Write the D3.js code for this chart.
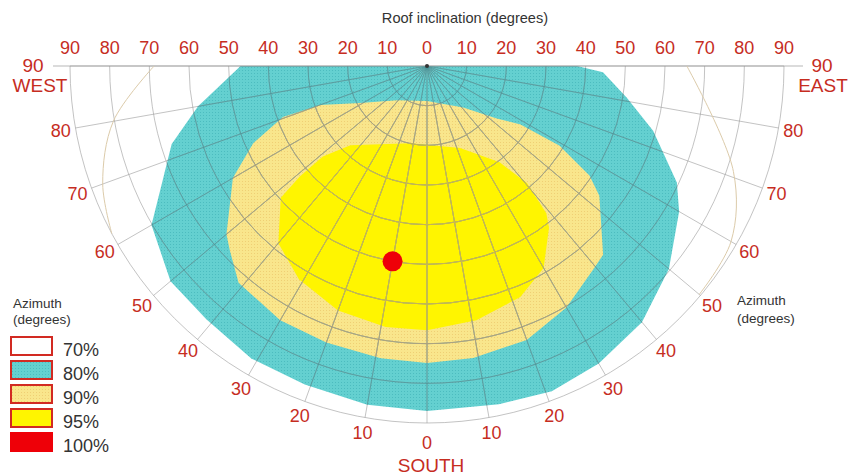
<!DOCTYPE html>
<html>
<head>
<meta charset="utf-8">
<script src="https://cdn.jsdelivr.net/npm/d3@7"></script>
<style>
    body { margin: 0; background: #fff; }
    svg { display: block; font-family: "Liberation Sans", Arial, sans-serif; }
</style>
</head>
<body>
<div id="chart"></div>
<script>

// ---- Data: [azimuth (deg, + = west), inclination (deg)] ----
const inclinationTicks = [10, 20, 30, 40, 50, 60, 70, 80, 90];
const azimuthTicks = [-90, -80, -70, -60, -50, -40, -30, -20, -10, 0, 10, 20, 30, 40, 50, 60, 70, 80, 90];
const azimuthLabels = [-80, -70, -60, -50, -40, -30, -20, -10, 0, 10, 20, 30, 40, 50, 60, 70, 80];

const contour80 = [
    [90, 47], [80, 58.6], [73, 67.3], [60, 80.2], [50, 84.4], [41, 84.7], [31, 86], [21, 86],
    [10, 86.7], [0, 87], [-12, 87.2], [-21, 87.8], [-30, 86.6], [-40, 84.3], [-50, 79.6],
    [-60, 73.4], [-65, 69.5], [-74, 59.3], [-81, 51], [-88, 44.4], [-90, 37.8]
];
const contour90 = [
    [70.5, 38.5], [70, 28.7], [61, 19.3], [41, 11.4], [0, 8.8], [-41, 13.9], [-53, 22],
    [-58, 27.8], [-59, 39], [-56, 49.4], [-53, 54.4], [-43, 65.1], [-40, 66], [-30, 70.3],
    [-20, 73.5], [-9, 74.5], [0, 74.9], [9, 74.6], [20, 74.2], [30, 74], [41, 72.4],
    [47, 68], [50, 66], [60, 56.5], [66, 48]
];
const contour95 = [
    [44, 27.8], [12, 19.9], [-22, 22.3], [-37, 30.4], [-40.5, 38.8], [-39, 47.8], [-37, 51.1],
    [-30, 58.8], [-22, 62.8], [-11, 65.3], [0, 66.6], [9, 66.6], [20, 65.6], [31, 62.7],
    [40, 58.3], [48, 49.6], [49, 42.5], [49, 34.8]
];
const peak100 = [10, 50];
const contour70West = [[90, 68.8], [80, 80.3], [70, 87], [62, 90]];
const contour70East = [[-50, 89.6], [-60, 88.5], [-71, 81.7], [-90, 65.5]];

const legendLabels = ["70%", "80%", "90%", "95%", "100%"];

// ---- Layout ----
const width = 850, height = 475;
const cx = 427, cy = 66;
const red = "#c62d1f";
const textGrey = "#333";

const rScale = d3.scaleLinear().domain([0, 90]).range([0, 357]);
const aScale = d3.scaleLinear().domain([-90, 90]).range([Math.PI / 2, 3 * Math.PI / 2]);

const svg = d3.select("#chart")
    .append("svg")
    .attr("width", width)
    .attr("height", height);

// ---- Patterns for the printed dot texture ----
const defs = svg.append("defs");

function dotPattern(id, base, dot) {
    const p = defs.append("pattern")
        .attr("id", id)
        .attr("patternUnits", "userSpaceOnUse")
        .attr("width", 3)
        .attr("height", 3);
    p.append("rect").attr("width", 3).attr("height", 3).attr("fill", base);
    p.append("rect").attr("x", 1).attr("y", 1).attr("width", 1).attr("height", 1).attr("fill", dot);
}
dotPattern("dots80", "#64d0d0", "#4cbcbf");
dotPattern("dots90", "#f9e68c", "#efcf74");

const closedPath = d3.lineRadial()
    .angle(d => aScale(d[0]))
    .radius(d => rScale(d[1]))
    .curve(d3.curveLinearClosed);
const path80 = closedPath(contour80);
const path90 = closedPath(contour90);
const path95 = closedPath(contour95);

[["clip80", path80], ["clip90", path90], ["clip95", path95]].forEach(([id, d]) => {
    defs.append("clipPath").attr("id", id).append("path").attr("d", d);
});

const chart = svg.append("g")
    .attr("transform", `translate(${cx},${cy})`);

// ---- Filled regions ----
chart.append("path").attr("d", path80).attr("fill", "url(#dots80)");
chart.append("path").attr("d", path90).attr("fill", "url(#dots90)");
chart.append("path").attr("d", path95).attr("fill", "#fff500");

// ---- Grid (drawn per region so lines take on the tint of the fill) ----
function drawGrid(parent, color, strokeWidth) {
    const g = parent.append("g")
        .attr("fill", "none")
        .attr("stroke", color)
        .attr("stroke-width", strokeWidth);

    g.selectAll(".ring")
        .data(inclinationTicks)
        .join("path")
        .attr("class", "ring")
        .attr("d", d => {
            const p = d3.path();
            p.arc(0, 0, rScale(d), 0, Math.PI, false);
            return p.toString();
        });

    g.selectAll(".spoke")
        .data(azimuthTicks)
        .join("line")
        .attr("class", "spoke")
        .attr("x1", 0)
        .attr("y1", 0)
        .attr("x2", d => d3.pointRadial(aScale(d), rScale(90))[0])
        .attr("y2", d => d3.pointRadial(aScale(d), rScale(90))[1]);
}

drawGrid(chart.append("g"), "#9a9a9a", 0.6);
drawGrid(chart.append("g").attr("clip-path", "url(#clip80)"), "#3a9499", 0.6);
drawGrid(chart.append("g").attr("clip-path", "url(#clip90)"), "#d4a270", 0.6);
drawGrid(chart.append("g").attr("clip-path", "url(#clip95)"), "#dcc43a", 0.55);

// top baseline
chart.append("line")
    .attr("x1", -rScale(90) - 17)
    .attr("x2", rScale(90) + 19)
    .attr("y1", 0)
    .attr("y2", 0)
    .attr("stroke", "#9a9a9a")
    .attr("stroke-width", 0.7);

// 70% contour lines
const openLine = d3.lineRadial()
    .angle(d => aScale(d[0]))
    .radius(d => rScale(d[1]))
    .curve(d3.curveCatmullRom);
[contour70West, contour70East].forEach(c => {
    chart.append("path")
        .attr("d", openLine(c))
        .attr("fill", "none")
        .attr("stroke", "#dccbaa")
        .attr("stroke-width", 1);
});

// centre point
chart.append("circle").attr("r", 2).attr("fill", "#333");

// 100% peak
const peakPos = d3.pointRadial(aScale(peak100[0]), rScale(peak100[1]));
chart.append("circle")
    .attr("cx", peakPos[0])
    .attr("cy", peakPos[1])
    .attr("r", 10)
    .attr("fill", "#ee0008");

// ---- Top inclination labels ----
const topLabels = [0].concat(inclinationTicks.map(d => -d), inclinationTicks);
chart.selectAll(".incl-label")
    .data(topLabels)
    .join("text")
    .attr("class", "incl-label")
    .attr("x", d => d < 0 ? -rScale(-d) : rScale(d))
    .attr("y", -12)
    .attr("text-anchor", "middle")
    .attr("fill", red)
    .style("font-size", "18px")
    .text(d => Math.abs(d));

svg.append("text")
    .attr("x", 465)
    .attr("y", 23)
    .attr("text-anchor", "middle")
    .attr("fill", textGrey)
    .style("font-size", "14.6px")
    .text("Roof inclination (degrees)");

// ---- Azimuth labels around the rim ----
chart.selectAll(".az-label")
    .data(azimuthLabels)
    .join("text")
    .attr("class", "az-label")
    .attr("x", d => d3.pointRadial(aScale(d), rScale(90) + (d === 0 ? 20 : 15))[0])
    .attr("y", d => d3.pointRadial(aScale(d), rScale(90) + (d === 0 ? 20 : 15))[1])
    .attr("dy", "0.36em")
    .attr("text-anchor", "middle")
    .attr("fill", red)
    .style("font-size", "18px")
    .text(d => Math.abs(d));

const compass = [
    { t: "90", x: 33, y: 72 }, { t: "WEST", x: 40, y: 92 },
    { t: "90", x: 822, y: 72 }, { t: "EAST", x: 823, y: 92 },
    { t: "SOUTH", x: 431, y: 472 }
];
svg.selectAll(".compass")
    .data(compass)
    .join("text")
    .attr("class", "compass")
    .attr("x", d => d.x)
    .attr("y", d => d.y)
    .attr("text-anchor", "middle")
    .attr("fill", red)
    .style("font-size", "19px")
    .text(d => d.t);

// axis captions
[[13, 308, "Azimuth"], [13, 324, "(degrees)"], [737, 305, "Azimuth"], [737, 323, "(degrees)"]]
    .forEach(([x, y, t]) => {
        svg.append("text")
            .attr("x", x)
            .attr("y", y)
            .attr("fill", textGrey)
            .style("font-size", "13.5px")
            .text(t);
    });

// ---- Legend ----
const legendFills = ["#ffffff", "url(#dots80)", "url(#dots90)", "#fff500", "#ee0008"];
const legend = svg.append("g")
    .attr("transform", "translate(11, 337)");

const legendItem = legend.selectAll(".legend-item")
    .data(legendLabels)
    .join("g")
    .attr("class", "legend-item")
    .attr("transform", (d, i) => `translate(0, ${i * 24})`);

legendItem.append("rect")
    .attr("width", 41)
    .attr("height", 18)
    .attr("fill", (d, i) => legendFills[i])
    .attr("stroke", (d, i) => i === 4 ? "#ee0008" : "#d22a22")
    .attr("stroke-width", 2);

legendItem.append("text")
    .attr("x", 52)
    .attr("y", 19)
    .attr("fill", textGrey)
    .style("font-size", "18px")
    .text(d => d);

</script>
</body>
</html>
